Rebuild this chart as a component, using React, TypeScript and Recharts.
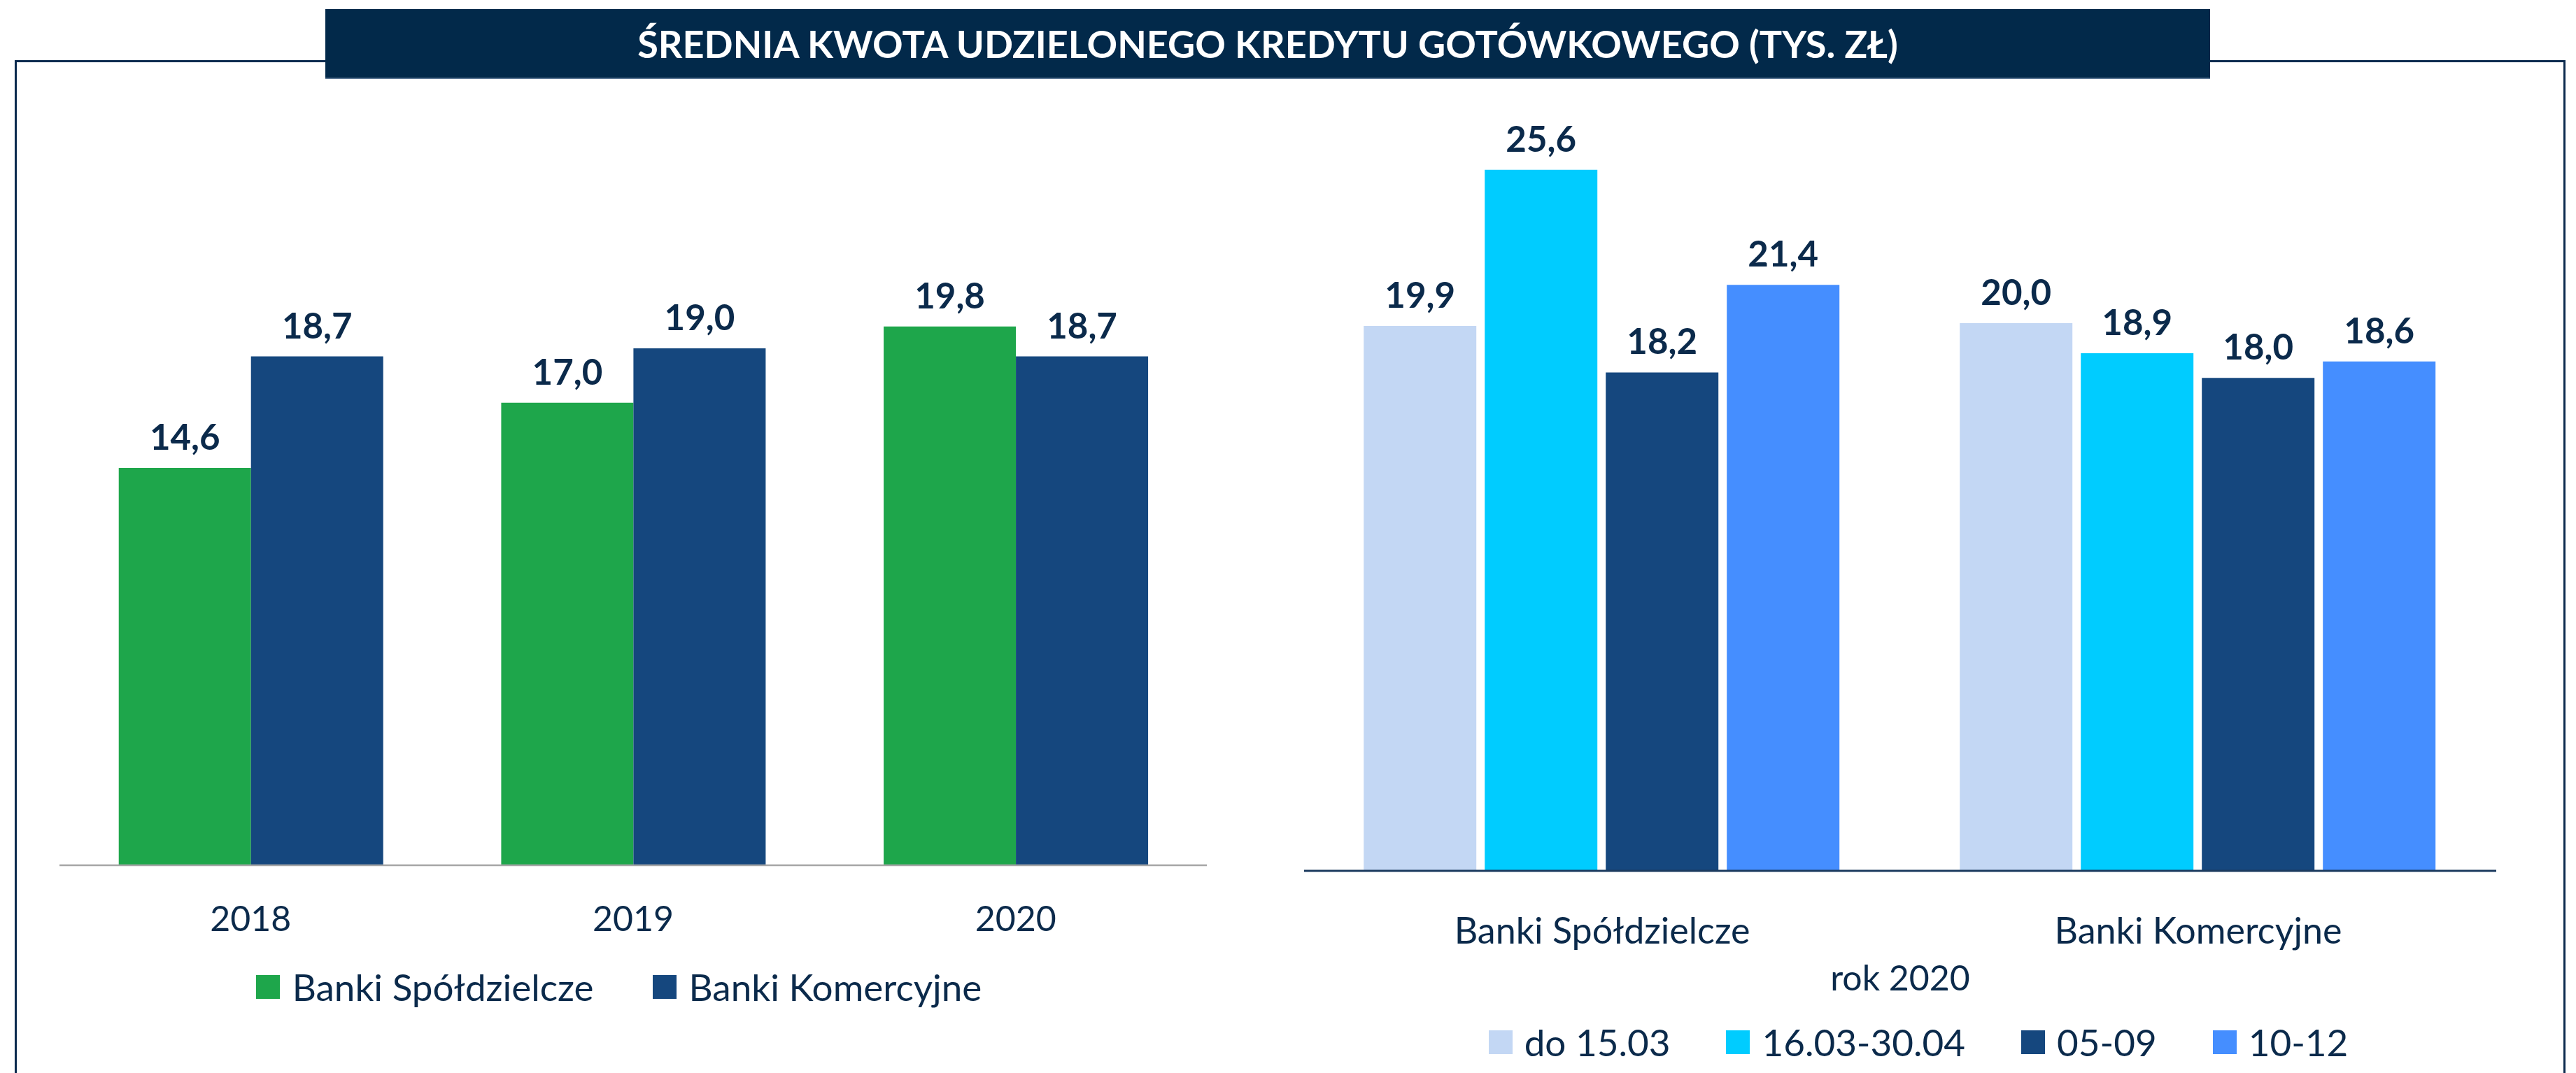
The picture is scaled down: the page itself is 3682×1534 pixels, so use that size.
import React from 'react';
import { BarChart, Bar, XAxis, YAxis, LabelList, Legend } from 'recharts';

// lewy wykres: lata
const years = ['2018', '2019', '2020'];
const seriesNamesLeft = ['Banki Spółdzielcze', 'Banki Komercyjne'];
const spoldzielcze = [14.6, 17.0, 19.8];
const komercyjne = [18.7, 19.0, 18.7];

// prawy wykres: okresy 2020
const bankTypes = ['Banki Spółdzielcze', 'Banki Komercyjne'];
const periodNames = ['do 15.03', '16.03-30.04', '05-09', '10-12'];
const doMarca = [19.9, 20.0];
const marzecKwiecien = [25.6, 18.9];
const majWrzesien = [18.2, 18.0];
const pazdzGrudzien = [21.4, 18.6];

const NAVY = '#0b2a4b';
const FONT = 'Lato, "Open Sans", sans-serif';

const yearData = years.map((y, i) => ({
  name: y,
  bs: spoldzielcze[i],
  bk: komercyjne[i],
}));

const periodData = bankTypes.map((b, i) => ({
  name: b,
  p1: doMarca[i],
  p2: marzecKwiecien[i],
  p3: majWrzesien[i],
  p4: pazdzGrudzien[i],
}));

const fmt = (v: any) => Number(v).toFixed(1).replace('.', ',');

// legenda z kwadratami, w kolejności serii (Recharts sortuje alfabetycznie)
function SquareLegend({ payload, gap, textGap, order }: any) {
  const items = [...(payload || [])].sort(
    (a: any, b: any) => order.indexOf(a.value) - order.indexOf(b.value)
  );
  return (
    <div
      style={{
        display: 'flex',
        justifyContent: 'center',
        alignItems: 'center',
        fontSize: 53,
        lineHeight: '60px',
        color: NAVY,
        fontFamily: FONT,
      }}
    >
      {items.map((p: any, i: number) => (
        <div key={p.value} style={{ display: 'flex', alignItems: 'center', marginLeft: i ? gap : 0 }}>
          <span style={{ display: 'inline-block', width: 34, height: 34, background: p.color, marginRight: textGap }} />
          <span>{p.value}</span>
        </div>
      ))}
    </div>
  );
}

const labelStyle = { fill: NAVY, fontSize: 51, fontWeight: 700, fontFamily: FONT };

export default function App() {
  return (
    <div
      style={{
        position: 'absolute',
        left: 0,
        top: 0,
        width: 3682,
        height: 1534,
        background: '#ffffff',
        fontFamily: FONT,
        overflow: 'hidden',
      }}
    >
      {/* ramka */}
      <div
        style={{
          position: 'absolute',
          left: 21,
          top: 86,
          width: 3640,
          height: 1500,
          border: '3px solid #0b2a4e',
          borderBottom: 'none',
        }}
      />
      <div
        style={{
          position: 'absolute',
          left: 465,
          top: 13,
          width: 2694,
          height: 98,
          background: '#02294a',
          borderBottom: '2px solid #5c7794',
          color: '#ffffff',
          fontWeight: 700,
          fontSize: 54,
          display: 'flex',
          alignItems: 'center',
          justifyContent: 'center',
        }}
      >
        ŚREDNIA KWOTA UDZIELONEGO KREDYTU GOTÓWKOWEGO (TYS. ZŁ)
      </div>

      <div style={{ position: 'absolute', left: 0, top: 0 }}>
        <BarChart
          width={1800}
          height={1534}
          data={yearData}
          margin={{ top: 264.5, left: 85, right: 75, bottom: 237 }}
          barCategoryGap="15.5%"
          barGap={0}
        >
          <XAxis
            dataKey="name"
            tickLine={false}
            tickSize={0}
            tickMargin={58}
            height={60}
            axisLine={{ stroke: '#a6a6a6', strokeWidth: 2.5 }}
            tick={{ fill: NAVY, fontSize: 50, fontFamily: FONT }}
          />
          <YAxis hide domain={[0, 25]} />
          <Legend
            verticalAlign="middle"
            align="center"
            layout="horizontal"
            wrapperStyle={{ top: 1381, left: 85, width: 1599, height: 60 }}
            content={(props: any) => (
              <SquareLegend {...props} gap={84} textGap={18} order={seriesNamesLeft} />
            )}
          />
          <Bar dataKey="bs" name={seriesNamesLeft[0]} fill="#1ea64b" isAnimationActive={false}>
            <LabelList dataKey="bs" position="top" offset={26} formatter={fmt} style={labelStyle} />
          </Bar>
          <Bar dataKey="bk" name={seriesNamesLeft[1]} fill="#15477e" isAnimationActive={false}>
            <LabelList dataKey="bk" position="top" offset={26} formatter={fmt} style={labelStyle} />
          </Bar>
        </BarChart>
      </div>

      <div style={{ position: 'absolute', left: 1800, top: 0 }}>
        <BarChart
          width={1882}
          height={1534}
          data={periodData}
          margin={{ top: 148.8, left: 64, right: 114, bottom: 169 }}
          barCategoryGap="10%"
          barGap={12}
        >
          <XAxis
            dataKey="name"
            tickLine={false}
            tickSize={0}
            tickMargin={67}
            height={120}
            axisLine={{ stroke: '#1b3a5e', strokeWidth: 3 }}
            tick={{ fill: NAVY, fontSize: 52, fontFamily: FONT }}
            label={{ value: 'rok 2020', position: 'bottom', offset: 15, fill: NAVY, fontSize: 50, fontFamily: FONT }}
          />
          <YAxis hide domain={[0, 28]} />
          <Legend
            verticalAlign="middle"
            align="center"
            layout="horizontal"
            wrapperStyle={{ top: 1460, left: 0, width: 1884, height: 60 }}
            content={(props: any) => (
              <SquareLegend {...props} gap={80} textGap={17} order={periodNames} />
            )}
          />
          <Bar dataKey="p1" name={periodNames[0]} fill="#c3d7f4" isAnimationActive={false}>
            <LabelList dataKey="p1" position="top" offset={26} formatter={fmt} style={labelStyle} />
          </Bar>
          <Bar dataKey="p2" name={periodNames[1]} fill="#00ccff" isAnimationActive={false}>
            <LabelList dataKey="p2" position="top" offset={26} formatter={fmt} style={labelStyle} />
          </Bar>
          <Bar dataKey="p3" name={periodNames[2]} fill="#15477e" isAnimationActive={false}>
            <LabelList dataKey="p3" position="top" offset={26} formatter={fmt} style={labelStyle} />
          </Bar>
          <Bar dataKey="p4" name={periodNames[3]} fill="#458eff" isAnimationActive={false}>
            <LabelList dataKey="p4" position="top" offset={26} formatter={fmt} style={labelStyle} />
          </Bar>
        </BarChart>
      </div>
    </div>
  );
}
